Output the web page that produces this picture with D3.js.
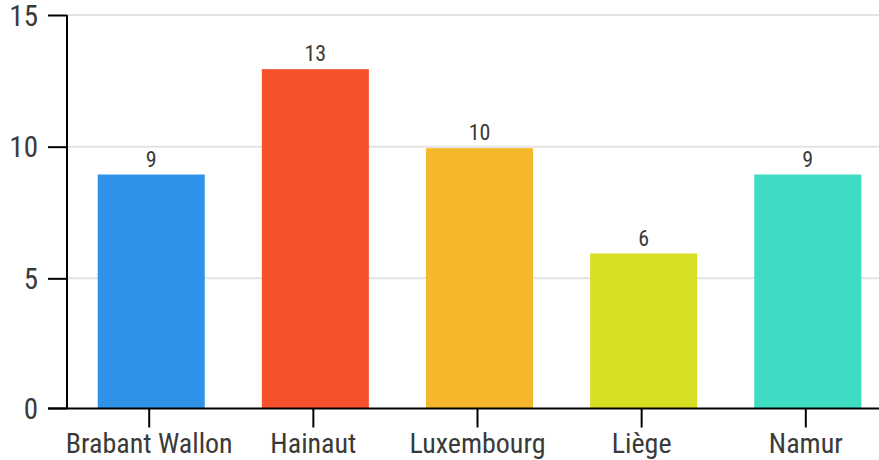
<!DOCTYPE html>
<html>
<head>
<meta charset="utf-8">
<script src="https://cdn.jsdelivr.net/npm/d3@7"></script>
<style>
  body { margin: 0; background: #fff; }
  svg text { font-family: "Roboto Condensed", Roboto, sans-serif; font-stretch: condensed; }
</style>
</head>
<body>
<div id="chart"></div>
<script>
const provinces = ["Brabant Wallon", "Hainaut", "Luxembourg", "Liège", "Namur"]
const counts = [9, 13, 10, 6, 9]
const barColors = ["#2e93e9", "#f7502c", "#f5b82c", "#d7df22", "#3ddcc3"]
const yTicks = [0, 5, 10, 15]

const W = 879, H = 460
const plotLeft = 67, plotTop = 15, plotBottom = 410
const axisY = 408.5
const barShift = 1.5

const svg = d3.select("#chart").append("svg")
    .attr("width", W)
    .attr("height", H)

const x = d3.scaleBand()
    .domain(provinces)
    .range([plotLeft, 892])
    .paddingInner(0.348)
    .paddingOuter(0.187)

const y = d3.scaleLinear()
    .domain([0, 15])
    .range([plotBottom, plotTop])

const color = d3.scaleOrdinal().domain(provinces).range(barColors)

// grid
svg.append("g")
    .selectAll("line")
    .data(yTicks.slice(1))
    .enter()
    .append("line")
    .attr("x1", plotLeft)
    .attr("x2", W)
    .attr("y1", d => y(d))
    .attr("y2", d => y(d))
    .attr("stroke", "#e3e3e3")
    .attr("stroke-width", 2)

// bars
svg.append("g")
    .selectAll("rect")
    .data(provinces)
    .enter()
    .append("rect")
    .attr("x", d => x(d))
    .attr("y", (d, i) => y(counts[i]) + barShift)
    .attr("width", x.bandwidth())
    .attr("height", (d, i) => axisY - y(counts[i]) - barShift)
    .attr("fill", d => color(d))

// value labels
svg.append("g")
    .selectAll("text")
    .data(provinces)
    .enter()
    .append("text")
    .attr("x", d => x(d) + x.bandwidth() / 2)
    .attr("y", (d, i) => y(counts[i]) + barShift - 8)
    .attr("text-anchor", "middle")
    .attr("font-size", 22)
    .attr("fill", "#3a3a3a")
    .text((d, i) => counts[i])

// y axis
const yAxis = svg.append("g")
    .attr("transform", `translate(${plotLeft},0)`)
    .call(d3.axisLeft(y).tickValues(yTicks).tickSize(19).tickPadding(10))
yAxis.select(".domain").attr("stroke", "#000").attr("stroke-width", 2)
    .attr("d", `M0,${plotTop}V${axisY}`)
yAxis.selectAll(".tick line").attr("stroke", "#000").attr("stroke-width", 2)
yAxis.selectAll(".tick").filter(d => d === 0).attr("transform", `translate(0,${axisY})`)
yAxis.selectAll(".tick text")
    .attr("font-size", 29)
    .attr("fill", "#3a3a3a")
    .attr("dy", "0.35em")

// x axis
const xAxis = svg.append("g")
    .attr("transform", `translate(-2,${axisY})`)
    .call(d3.axisBottom(x).tickSize(19).tickPadding(6))
xAxis.select(".domain").attr("stroke", "#000").attr("stroke-width", 2)
    .attr("d", `M${48 + 2},0H${W + 2}`)
xAxis.selectAll(".tick line").attr("stroke", "#000").attr("stroke-width", 2)
xAxis.selectAll(".tick text")
    .attr("font-size", 28)
    .attr("fill", "#3a3a3a")
</script>
</body>
</html>
